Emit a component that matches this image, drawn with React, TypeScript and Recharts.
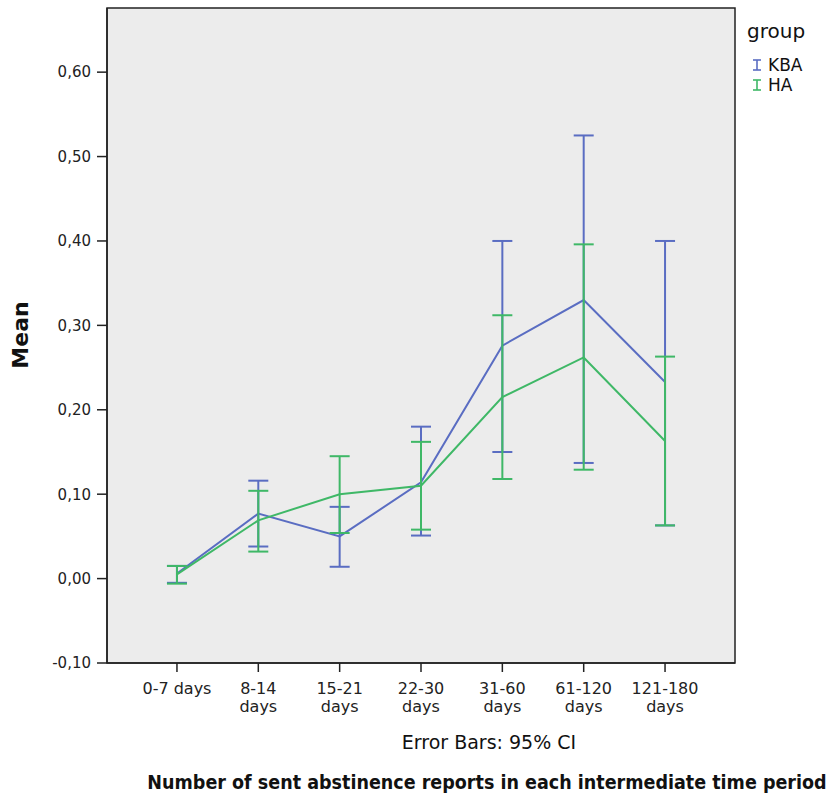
import React from 'react';
import {
  ComposedChart,
  Line,
  XAxis,
  YAxis,
  ErrorBar,
  CartesianGrid,
  ReferenceArea,
} from 'recharts';

const categories = ['0-7 days', '8-14 days', '15-21 days', '22-30 days', '31-60 days', '61-120 days', '121-180 days'];
const tickLines: string[][] = [['0-7 days'], ['8-14', 'days'], ['15-21', 'days'], ['22-30', 'days'], ['31-60', 'days'], ['61-120', 'days'], ['121-180', 'days']];

const kbaMean = [0.006, 0.077, 0.05, 0.114, 0.276, 0.33, 0.233];
const kbaLower = [-0.005, 0.038, 0.014, 0.051, 0.15, 0.137, 0.063];
const kbaUpper = [0.015, 0.116, 0.085, 0.18, 0.4, 0.525, 0.4];

const haMean = [0.005, 0.069, 0.1, 0.11, 0.215, 0.262, 0.163];
const haLower = [-0.006, 0.032, 0.054, 0.058, 0.118, 0.129, 0.063];
const haUpper = [0.015, 0.104, 0.145, 0.162, 0.312, 0.396, 0.263];

const yTicks = [-0.1, 0, 0.1, 0.2, 0.3, 0.4, 0.5, 0.6];

const BLUE = '#5a6dc2';
const GREEN = '#3fb867';

const data = categories.map((c, i) => ({
  x: i,
  name: c,
  kba: kbaMean[i],
  kbaErr: [kbaMean[i] - kbaLower[i], kbaUpper[i] - kbaMean[i]],
  ha: haMean[i],
  haErr: [haMean[i] - haLower[i], haUpper[i] - haMean[i]],
}));

const XTick = (props: any) => {
  const { x, y, payload } = props;
  const lines = tickLines[payload.value] || [];
  return (
    <text
      x={x}
      y={y}
      textAnchor="middle"
      fill="#222"
      style={{ fontFamily: '"DejaVu Sans", sans-serif', fontSize: 16 }}
    >
      {lines.map((l, i) => (
        <tspan key={i} x={x} dy={i === 0 ? 20 : 18}>
          {l}
        </tspan>
      ))}
    </text>
  );
};

const LegendIcon = ({ color }: { color: string }) => (
  <svg width={10} height={12} style={{ display: 'block' }}>
    <line x1={5} y1={1} x2={5} y2={11} stroke={color} strokeWidth={1.6} />
    <line x1={1} y1={1} x2={9} y2={1} stroke={color} strokeWidth={1.6} />
    <line x1={1} y1={11} x2={9} y2={11} stroke={color} strokeWidth={1.6} />
  </svg>
);

export default function App() {
  return (
    <div style={{ position: 'absolute', left: 0, top: 0, width: 830, height: 796, background: '#fff', fontFamily: '"DejaVu Sans", sans-serif' }}>
      <ComposedChart
        width={830}
        height={796}
        data={data}
        margin={{ top: 8, right: 95, bottom: 103, left: 27 }}
      >
        <CartesianGrid fill="#ececec" fillOpacity={1} horizontal={false} vertical={false} />
        <XAxis
          dataKey="x"
          type="number"
          domain={[-0.86, 6.86]}
          ticks={[0, 1, 2, 3, 4, 5, 6]}
          tick={<XTick />}
          height={30}
          tickSize={9}
          tickMargin={2}
          interval={0}
          allowDataOverflow
          stroke="#222"
          axisLine={{ stroke: '#222', strokeWidth: 1.5 }}
          tickLine={{ stroke: '#222', strokeWidth: 1.5 }}
        />
        <YAxis
          type="number"
          domain={[-0.1, 0.676]}
          ticks={yTicks}
          allowDataOverflow
          width={80}
          tickSize={10}
          tickMargin={6}
          interval={0}
          tickFormatter={(v: number) => v.toFixed(2).replace('.', ',')}
          tick={{ fill: '#222', fontSize: 15, fontFamily: '"DejaVu Sans", sans-serif' }}
          axisLine={{ stroke: '#222', strokeWidth: 1.5 }}
          tickLine={{ stroke: '#222', strokeWidth: 1.5 }}
        />
        <ReferenceArea
          x1={-0.86}
          x2={6.86}
          y1={-0.1}
          y2={0.676}
          fill="none"
          fillOpacity={0}
          stroke="#222"
          strokeWidth={1.5}
          ifOverflow="visible"
        />
        <Line
          dataKey="kba"
          stroke={BLUE}
          strokeWidth={2}
          dot={false}
          activeDot={false}
          isAnimationActive={false}
        >
          <ErrorBar dataKey="kbaErr" direction="y" width={10} stroke={BLUE} strokeWidth={2} isAnimationActive={false} />
        </Line>
        <Line
          dataKey="ha"
          stroke={GREEN}
          strokeWidth={2}
          dot={false}
          activeDot={false}
          isAnimationActive={false}
        >
          <ErrorBar dataKey="haErr" direction="y" width={10} stroke={GREEN} strokeWidth={2} isAnimationActive={false} />
        </Line>
      </ComposedChart>

      <div
        style={{
          position: 'absolute',
          left: 21,
          top: 335,
          transform: 'translate(-50%, -50%) rotate(-90deg)',
          fontWeight: 'bold',
          fontSize: 22,
          fontFamily: '"DejaVu Sans", sans-serif',
          color: '#111',
          whiteSpace: 'nowrap',
          lineHeight: 1,
        }}
      >
        Mean
      </div>

      <div style={{ position: 'absolute', left: 747, top: 19, fontSize: 20, color: '#111', fontFamily: '"DejaVu Sans", sans-serif', lineHeight: 'normal' }}>group</div>
      <div style={{ position: 'absolute', left: 752, top: 55, height: 20, display: 'flex', alignItems: 'center', gap: 6, fontSize: 17, color: '#111' }}>
        <LegendIcon color={BLUE} />
        <span>KBA</span>
      </div>
      <div style={{ position: 'absolute', left: 752, top: 75, height: 20, display: 'flex', alignItems: 'center', gap: 6, fontSize: 17, color: '#111' }}>
        <LegendIcon color={GREEN} />
        <span>HA</span>
      </div>

      <div
        style={{
          position: 'absolute',
          left: 489,
          top: 742,
          transform: 'translate(-50%, -50%)',
          fontSize: 19,
          fontFamily: '"DejaVu Sans", sans-serif',
          color: '#111',
          whiteSpace: 'nowrap',
        }}
      >
        Error Bars: 95% CI
      </div>

      <div
        style={{
          position: 'absolute',
          left: 487,
          top: 782,
          transform: 'translate(-50%, -50%)',
          fontSize: 19.5,
          fontWeight: 'bold',
          fontFamily: '"DejaVu Sans Condensed", "DejaVu Sans", sans-serif',
          color: '#111',
          whiteSpace: 'nowrap',
        }}
      >
        Number of sent abstinence reports in each intermediate time period
      </div>
    </div>
  );
}
